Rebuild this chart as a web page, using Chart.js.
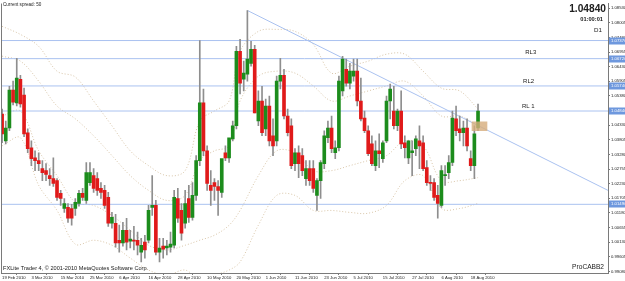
<!DOCTYPE html>
<html>
<head>
<meta charset="utf-8">
<script src="https://cdn.jsdelivr.net/npm/chart.js@4.4.1/dist/chart.umd.min.js"></script>
<style>
  html, body { margin: 0; padding: 0; background: #fff; overflow: hidden; }
  canvas { display: block; }
</style>
</head>
<body>
<canvas id="chart" width="625" height="281"></canvas>
<script>
// USDCAD D1, 19 Feb 2010 .. 20 Aug 2010 (one bar per trading day)
const opens = [
  1.0473, 1.0377, 1.0423, 1.0559, 1.0513, 1.0598, 1.0541, 1.0406, 1.0352, 1.0316,
  1.0306, 1.0277, 1.0270, 1.0252, 1.0241, 1.0234, 1.0188, 1.0134, 1.0138, 1.0134,
  1.0134, 1.0152, 1.0188, 1.0163, 1.0227, 1.0252, 1.0241, 1.0206, 1.0199, 1.0174,
  1.0081, 1.0081, 1.0020, 1.0010, 1.0056, 1.0017, 1.0020, 1.0020, 0.9977, 1.0013,
  1.0020, 1.0138, 1.0145, 0.9977, 0.9999, 0.9992, 0.9995, 1.0002, 1.0170, 1.0127,
  1.0081, 1.0170, 1.0102, 1.0181, 1.0306, 1.0513, 1.0341, 1.0217, 1.0227, 1.0213,
  1.0192, 1.0334, 1.0316, 1.0384, 1.0431, 1.0698, 1.0598, 1.0616, 1.0655, 1.0705,
  1.0448, 1.0520, 1.0420, 1.0502, 1.0395, 1.0377, 1.0591, 1.0612, 1.0466, 1.0431,
  1.0295, 1.0334, 1.0324, 1.0241, 1.0277, 1.0277, 1.0181, 1.0234, 1.0295, 1.0388,
  1.0423, 1.0334, 1.0352, 1.0556, 1.0634, 1.0584, 1.0609, 1.0627, 1.0520, 1.0459,
  1.0413, 1.0366, 1.0288, 1.0341, 1.0313, 1.0377, 1.0520, 1.0484, 1.0431, 1.0484,
  1.0370, 1.0316, 1.0334, 1.0349, 1.0377, 1.0370, 1.0281, 1.0227, 1.0227, 1.0181,
  1.0145, 1.0252, 1.0263, 1.0299, 1.0456, 1.0420, 1.0406, 1.0423, 1.0313, 1.0288,
  1.0423
];
const highs = [
  1.0491, 1.0448, 1.0573, 1.0591, 1.0673, 1.0612, 1.0566, 1.0420, 1.0377, 1.0341,
  1.0334, 1.0306, 1.0295, 1.0277, 1.0316, 1.0241, 1.0199, 1.0170, 1.0152, 1.0149,
  1.0170, 1.0199, 1.0206, 1.0299, 1.0299, 1.0277, 1.0263, 1.0227, 1.0217, 1.0192,
  1.0120, 1.0113, 1.0074, 1.0084, 1.0099, 1.0056, 1.0070, 1.0049, 1.0027, 1.0038,
  1.0145, 1.0252, 1.0163, 1.0027, 1.0027, 1.0020, 1.0049, 1.0199, 1.0206, 1.0152,
  1.0199, 1.0217, 1.0227, 1.0324, 1.0737, 1.0563, 1.0359, 1.0270, 1.0241, 1.0234,
  1.0234, 1.0359, 1.0341, 1.0448, 1.0716, 1.0741, 1.0663, 1.0845, 1.0734, 1.0720,
  1.0556, 1.0573, 1.0527, 1.0538, 1.0456, 1.0609, 1.0673, 1.0634, 1.0491, 1.0456,
  1.0349, 1.0359, 1.0349, 1.0306, 1.0306, 1.0306, 1.0241, 1.0306, 1.0413, 1.0448,
  1.0466, 1.0377, 1.0609, 1.0680, 1.0670, 1.0655, 1.0670, 1.0670, 1.0602, 1.0484,
  1.0431, 1.0395, 1.0377, 1.0402, 1.0377, 1.0538, 1.0581, 1.0573, 1.0491, 1.0556,
  1.0395, 1.0377, 1.0377, 1.0395, 1.0431, 1.0395, 1.0306, 1.0252, 1.0241, 1.0217,
  1.0288, 1.0288, 1.0324, 1.0484, 1.0502, 1.0466, 1.0448, 1.0456, 1.0341, 1.0431,
  1.0509
];
const lows = [
  1.0370, 1.0366, 1.0413, 1.0506, 1.0502, 1.0498, 1.0392, 1.0334, 1.0288, 1.0270,
  1.0270, 1.0234, 1.0234, 1.0217, 1.0213, 1.0163, 1.0145, 1.0120, 1.0084, 1.0074,
  1.0109, 1.0142, 1.0163, 1.0152, 1.0217, 1.0192, 1.0181, 1.0170, 1.0134, 1.0070,
  1.0063, 0.9995, 0.9977, 0.9999, 0.9985, 0.9992, 0.9985, 0.9967, 0.9942, 0.9956,
  1.0010, 1.0109, 0.9967, 0.9942, 0.9956, 0.9967, 0.9977, 0.9992, 1.0084, 1.0020,
  1.0063, 1.0084, 1.0092, 1.0163, 1.0288, 1.0324, 1.0199, 1.0145, 1.0163, 1.0109,
  1.0174, 1.0306, 1.0299, 1.0377, 1.0420, 1.0545, 1.0556, 1.0591, 1.0645, 1.0477,
  1.0431, 1.0395, 1.0395, 1.0359, 1.0324, 1.0359, 1.0563, 1.0456, 1.0395, 1.0277,
  1.0270, 1.0245, 1.0252, 1.0217, 1.0217, 1.0192, 1.0127, 1.0170, 1.0277, 1.0370,
  1.0334, 1.0313, 1.0341, 1.0538, 1.0573, 1.0563, 1.0591, 1.0502, 1.0448, 1.0406,
  1.0324, 1.0288, 1.0270, 1.0281, 1.0299, 1.0370, 1.0456, 1.0420, 1.0413, 1.0349,
  1.0316, 1.0295, 1.0252, 1.0324, 1.0277, 1.0270, 1.0217, 1.0199, 1.0163, 1.0099,
  1.0138, 1.0217, 1.0241, 1.0288, 1.0395, 1.0377, 1.0359, 1.0341, 1.0270, 1.0241,
  1.0413
];
const closes = [
  1.0402, 1.0423, 1.0559, 1.0516, 1.0602, 1.0509, 1.0402, 1.0349, 1.0313, 1.0306,
  1.0295, 1.0263, 1.0256, 1.0241, 1.0224, 1.0174, 1.0170, 1.0152, 1.0099, 1.0099,
  1.0156, 1.0188, 1.0174, 1.0263, 1.0263, 1.0206, 1.0199, 1.0192, 1.0145, 1.0081,
  1.0102, 1.0010, 1.0010, 1.0056, 1.0013, 1.0024, 1.0017, 1.0002, 1.0002, 0.9985,
  1.0127, 1.0145, 0.9977, 0.9992, 0.9988, 0.9999, 1.0006, 1.0174, 1.0099, 1.0045,
  1.0152, 1.0102, 1.0181, 1.0306, 1.0513, 1.0341, 1.0224, 1.0199, 1.0213, 1.0199,
  1.0313, 1.0316, 1.0388, 1.0431, 1.0698, 1.0584, 1.0620, 1.0670, 1.0705, 1.0477,
  1.0520, 1.0406, 1.0502, 1.0377, 1.0359, 1.0591, 1.0612, 1.0466, 1.0406, 1.0288,
  1.0334, 1.0295, 1.0270, 1.0277, 1.0234, 1.0206, 1.0234, 1.0299, 1.0395, 1.0423,
  1.0349, 1.0352, 1.0591, 1.0670, 1.0584, 1.0627, 1.0627, 1.0520, 1.0456, 1.0413,
  1.0331, 1.0295, 1.0341, 1.0331, 1.0370, 1.0520, 1.0563, 1.0431, 1.0484, 1.0366,
  1.0352, 1.0377, 1.0341, 1.0384, 1.0359, 1.0277, 1.0227, 1.0224, 1.0174, 1.0152,
  1.0270, 1.0256, 1.0299, 1.0459, 1.0413, 1.0406, 1.0423, 1.0359, 1.0288, 1.0402,
  1.0484
];

// envelope / band lines, read at every 5th bar
const bandIdx = [0, 5, 10, 15, 20, 25, 30, 35, 40, 45, 50, 54, 58, 62, 65, 70, 75, 80, 85, 90, 95, 100, 105, 110, 115, 120, 125, 130];
const bandUpper2 = [1.0788, 1.0759, 1.0716, 1.0627, 1.0606, 1.0520, 1.0431, 1.0341, 1.0288, 1.0252, 1.0270, 1.0449, 1.0484, 1.0520,
  1.0698, 1.0770, 1.0777, 1.0770, 1.0723, 1.0620, 1.0645, 1.0663, 1.0688, 1.0688, 1.0627, 1.0566, 1.0556, 1.0491];
const bandUpper1 = [1.0681, 1.0663, 1.0591, 1.0502, 1.0456, 1.0395, 1.0324, 1.0252, 1.0199, 1.0163, 1.0181, 1.0306, 1.0341, 1.0359,
  1.0520, 1.0609, 1.0627, 1.0620, 1.0574, 1.0520, 1.0538, 1.0556, 1.0574, 1.0591, 1.0538, 1.0466, 1.0466, 1.0431];
const bandLower1 = [1.0466, 1.0484, 1.0341, 1.0252, 1.0156, 1.0145, 1.0109, 1.0056, 1.0002, 0.9985, 1.0002, 1.0020, 1.0038, 1.0074,
  1.0127, 1.0252, 1.0341, 1.0334, 1.0270, 1.0270, 1.0288, 1.0306, 1.0324, 1.0377, 1.0359, 1.0234, 1.0234, 1.0245];
const bandLower2 = [1.0359, 1.0388, 1.0217, 1.0127, 1.0006, 1.0020, 1.0002, 0.9956, 0.9913, 0.9895, 0.9913, 0.9877, 0.9895, 0.9913,
  0.9942, 1.0074, 1.0181, 1.0181, 1.0127, 1.0127, 1.0120, 1.0117, 1.0145, 1.0234, 1.0252, 1.0134, 1.0134, 1.0152];

// date axis
const dateTicks = [0, 8, 16, 24, 32, 40, 48, 56, 64, 72, 80, 88, 96, 104, 112, 120, 128];
const dateLabels = ['19 Feb 2010', '3 Mar 2010', '15 Mar 2010', '25 Mar 2010', '6 Apr 2010', '16 Apr 2010',
  '28 Apr 2010', '10 May 2010', '20 May 2010', '1 Jun 2010', '11 Jun 2010', '23 Jun 2010', '5 Jul 2010',
  '15 Jul 2010', '27 Jul 2010', '6 Aug 2010', '18 Aug 2010'];

// price axis
const priceTicks = [0.99080, 0.99605, 1.00130, 1.00655, 1.01180, 1.01705, 1.02230, 1.02755, 1.03280, 1.03805,
  1.04330, 1.04855, 1.05380, 1.05905, 1.06430, 1.06955, 1.07480, 1.08005, 1.08530];

// horizontal lines and their price tags
const levelPrices = [1.0737, 1.0672, 1.0574, 1.0484, 1.0149];

// trend line (bar index, price)
const trendIdx = [67, 165.5];
const trendPrice = [1.0845, 1.0199];

// shaded box
const boxIdx = 130.4;
const boxPrice = [1.0413, 1.0445];

// text objects on the chart
const rlText = ['RL3', 'RL2', 'RL 1'];
const rlIdx = [142.9, 142.3, 142.0];
const rlPrice = [1.0695, 1.0591, 1.0502];

const X_MIN = -0.3, X_MAX = 165.5;
const Y_MIN = 0.99024, Y_MAX = 1.08699;
const FONT = "'Liberation Sans', Arial, sans-serif";

const up = '#1c8c1c', down = '#e01a1a';
const bodyData = opens.map((o, i) => ({ x: i, y: [Math.min(o, closes[i]), Math.max(o, closes[i])] }));
const bodyColors = opens.map((o, i) => closes[i] >= o ? up : down);
const wickData = highs.map((h, i) => ({ x: i, y: [lows[i], h] }));

function bandLine(values) {
  return {
    type: 'line',
    data: values.map((v, k) => ({ x: bandIdx[k], y: v })),
    borderColor: '#d9c6a9',
    borderWidth: 1,
    borderDash: [1, 2],
    pointRadius: 0,
    tension: 0.35,
    order: 6
  };
}

const datasets = [
  bandLine(bandUpper2),
  bandLine(bandUpper1),
  bandLine(bandLower1),
  bandLine(bandLower2),
  ...levelPrices.map(p => ({
    type: 'line',
    data: [{ x: X_MIN, y: p }, { x: X_MAX, y: p }],
    borderColor: '#aac2f0',
    borderWidth: 1,
    pointRadius: 0,
    order: 5
  })),
  {
    type: 'line',
    data: trendIdx.map((v, k) => ({ x: v, y: trendPrice[k] })),
    borderColor: '#aac2f0',
    borderWidth: 1,
    pointRadius: 0,
    order: 4
  },
  {
    type: 'bar',
    data: wickData,
    backgroundColor: '#8e8e8e',
    barThickness: 1,
    grouped: false,
    order: 3
  },
  {
    type: 'bar',
    data: bodyData,
    backgroundColor: bodyColors,
    barThickness: 3,
    minBarLength: 1,
    grouped: false,
    order: 2
  },
  {
    type: 'bar',
    data: [{ x: boxIdx, y: boxPrice }],
    backgroundColor: 'rgba(214,172,124,0.8)',
    barThickness: 15,
    grouped: false,
    order: 1
  }
];

const decor = {
  id: 'decor',
  beforeDraw(chart) {
    const ctx = chart.ctx;
    ctx.save();
    ctx.fillStyle = '#ffffff';
    ctx.fillRect(0, 0, chart.width, chart.height);
    ctx.restore();
  },
  afterDraw(chart) {
    const { ctx, chartArea: a, scales: { x, y } } = chart;
    ctx.save();
    // frame on the left
    ctx.strokeStyle = '#7a7a7a';
    ctx.lineWidth = 1;
    ctx.beginPath();
    ctx.moveTo(a.left + 0.5, a.top);
    ctx.lineTo(a.left + 0.5, a.bottom);
    ctx.stroke();

    // price tags of the horizontal lines
    ctx.textBaseline = 'middle';
    ctx.textAlign = 'left';
    levelPrices.forEach(p => {
      const py = y.getPixelForValue(p);
      ctx.fillStyle = '#6e98de';
      ctx.fillRect(a.right + 1, Math.round(py) - 3.5, 20, 7);
      ctx.fillStyle = '#ffffff';
      ctx.font = '4.3px ' + FONT;
      ctx.fillText(p.toFixed(5), a.right + 3, py);
    });

    // RL labels
    ctx.fillStyle = '#202020';
    ctx.font = '6px ' + FONT;
    rlText.forEach((t, k) => {
      ctx.fillText(t, x.getPixelForValue(rlIdx[k]), y.getPixelForValue(rlPrice[k]));
    });

    // corner texts
    ctx.font = '4.6px ' + FONT;
    ctx.fillText('Current spread: 50', 3, 4.5);
    ctx.font = '5.6px ' + FONT;
    ctx.fillText('FXLite Trader 4, \u00a9 2001-2010 MetaQuotes Software Corp.', 3, 268);

    ctx.textAlign = 'right';
    ctx.font = 'bold 10.2px ' + FONT;
    ctx.fillText('1.04840', 606, 9.5);
    ctx.font = 'bold 5.7px ' + FONT;
    ctx.fillText('01:00:01', 603, 19.5);
    ctx.font = '6.2px ' + FONT;
    ctx.fillText('D1', 602, 30);
    ctx.font = '6.6px ' + FONT;
    ctx.fillText('ProCABB2', 604, 267);
    ctx.restore();
  }
};

new Chart(document.getElementById('chart'), {
  type: 'bar',
  data: { datasets },
  options: {
    responsive: false,
    devicePixelRatio: 1,
    animation: false,
    layout: { padding: { left: 1, top: 2, right: 0, bottom: 0 } },
    plugins: { legend: { display: false }, tooltip: { enabled: false }, title: { display: false } },
    scales: {
      x: {
        type: 'linear',
        min: X_MIN,
        max: X_MAX,
        offset: false,
        afterBuildTicks: s => { s.ticks = dateTicks.map(v => ({ value: v })); },
        afterFit: s => { s.height = 8; },
        ticks: {
          autoSkip: false,
          maxRotation: 0,
          align: 'start',
          padding: 0,
          color: '#202020',
          font: { family: FONT, size: 4.2 },
          callback: (v, i) => dateLabels[i]
        },
        grid: { drawOnChartArea: false, drawTicks: true, tickLength: 2, color: '#7a7a7a' },
        border: { display: true, color: '#7a7a7a' }
      },
      y: {
        type: 'linear',
        position: 'right',
        min: Y_MIN,
        max: Y_MAX,
        afterBuildTicks: s => { s.ticks = priceTicks.map(v => ({ value: v })); },
        afterFit: s => { s.width = 17; },
        ticks: {
          padding: 1,
          color: '#202020',
          font: { family: FONT, size: 4.2 },
          callback: v => v.toFixed(5)
        },
        grid: { drawOnChartArea: false, drawTicks: true, tickLength: 2, color: '#7a7a7a' },
        border: { display: true, color: '#7a7a7a' }
      }
    }
  },
  plugins: [decor]
});
</script>
</body>
</html>
